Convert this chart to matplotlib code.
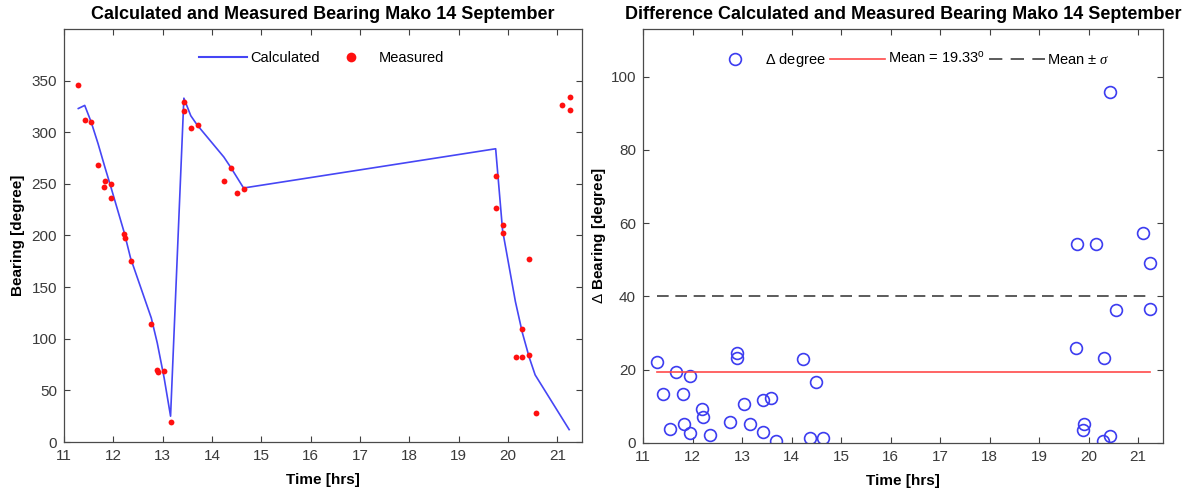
import matplotlib
matplotlib.use("Agg")
import matplotlib.pyplot as plt
from matplotlib.lines import Line2D
import numpy as np

plt.rcParams['font.family'] = ['Liberation Sans', 'DejaVu Sans']
plt.rcParams['mathtext.fontset'] = 'custom'
plt.rcParams['mathtext.rm'] = 'Liberation Sans'
plt.rcParams['mathtext.it'] = 'Liberation Serif:italic'

# Calculated bearing along the track (hours, degrees)
calc_time = [11.29, 11.42, 11.55, 11.69, 11.83, 11.95, 12.22, 12.35, 12.77, 12.89,
             13.03, 13.16, 13.43, 13.57, 13.70, 14.24, 14.38, 14.64, 19.75, 19.89,
             20.15, 20.29, 20.43, 20.55, 21.24]
calc_bearing = [323, 326, 310, 289, 266, 247, 203, 178, 120, 96,
                62, 25, 333, 316, 307, 276, 266, 246, 284, 205,
                136, 106, 82, 65, 12]

# Measured bearings
meas_time = [11.29, 11.42, 11.55, 11.69, 11.83, 11.81, 11.96, 11.95, 12.21, 12.23,
             12.35, 12.77, 12.89, 12.90, 13.03, 13.17, 13.43, 13.43, 13.57, 13.71,
             14.24, 14.38, 14.50, 14.65, 19.75, 19.76, 19.89, 19.89, 20.16, 20.28,
             20.29, 20.43, 20.43, 20.56, 21.10, 21.25, 21.25]
meas_bearing = [346, 312, 310, 268, 253, 247, 250, 236, 201, 198,
                175, 114, 70, 68, 69, 19, 329, 321, 304, 307,
                253, 265, 241, 245, 258, 227, 210, 202, 82, 109,
                82, 177, 84, 28, 326, 322, 334]

# Absolute difference between calculated and measured bearing
diff_time = [11.28, 11.41, 11.54, 11.67, 11.80, 11.82, 11.95, 11.94, 12.20, 12.22,
             12.35, 12.75, 12.89, 12.90, 13.03, 13.16, 13.42, 13.43, 13.58, 13.69,
             14.23, 14.37, 14.50, 14.64, 19.75, 19.76, 19.88, 19.90, 20.15, 20.28,
             20.30, 20.42, 20.43, 20.55, 21.10, 21.23, 21.24]
diff_deg = [22.0, 13.5, 3.9, 19.5, 13.5, 5.3, 18.4, 2.6, 9.4, 7.0,
            2.2, 5.7, 24.6, 23.3, 10.6, 5.3, 11.8, 2.9, 12.3, 0.5,
            22.8, 1.5, 16.6, 1.4, 25.8, 54.4, 3.5, 5.1, 54.2, 0.5,
            23.3, 1.9, 95.8, 36.4, 57.2, 49.0, 36.5]
diff_mean = 19.33
diff_std = 20.7

x_ticks = list(range(11, 22))
left_yticks = [0, 50, 100, 150, 200, 250, 300, 350]
right_yticks = [0, 20, 40, 60, 80, 100]

W, H = 1182, 495
fig = plt.figure(figsize=(W / 100, H / 100), dpi=100)
ax1 = fig.add_axes([64 / W, 1 - 442 / H, (582 - 64) / W, (442 - 29) / H])
ax2 = fig.add_axes([643 / W, 1 - 443 / H, (1163 - 643) / W, (443 - 29) / H])

tick_col = '#404040'
for ax in (ax1, ax2):
    ax.tick_params(direction='in', top=True, right=True, length=4, width=0.8,
                   colors=tick_col, labelsize=11, labelcolor='#3a3a3a', pad=5)
    for s in ax.spines.values():
        s.set_color('#4a4a4a')
        s.set_linewidth(0.9)
    ax.set_xlim(11, 21.5)
    ax.set_xticks(x_ticks)
    ax.set_xlabel('Time [hrs]', fontsize=11, fontweight='bold', labelpad=7)

# Left panel
ax1.plot(calc_time, calc_bearing, color='#4646f5', lw=1.2, label='Calculated')
ax1.plot(meas_time, meas_bearing, 'o', color='#ff1010', ms=4.2, mew=0, label='Measured')
ax1.set_ylim(0, 400)
ax1.set_yticks(left_yticks)
ax1.set_ylabel('Bearing [degree]', fontsize=11, fontweight='bold', labelpad=5)
ax1.set_title('Calculated and Measured Bearing Mako 14 September',
              fontsize=13, fontweight='bold', pad=7)
h1 = [Line2D([], [], color='#4646f5', lw=1.5),
      Line2D([], [], ls='none', marker='o', color='#ff1010', ms=7, mew=0)]
ax1.legend(h1, ['Calculated', 'Measured'], ncol=2, frameon=False, loc='center',
           bbox_to_anchor=(0.497, 0.93), fontsize=10.5, handlelength=3.3,
           handletextpad=0.2, columnspacing=0.5)

# Right panel
dash = (0, (7, 4))
t0, t1 = diff_time[0], diff_time[-1]
ax2.plot(diff_time, diff_deg, 'o', mfc='none', mec='#3c3cf0', ms=8.5, mew=1.2)
ax2.plot([t0, t1], [diff_mean, diff_mean], color='#ff4a4a', lw=1.2)
ax2.plot([t0, t1], [diff_mean + diff_std] * 2, color='#404040', lw=1.2, ls=dash)
ax2.plot([t0, t1], [diff_mean - diff_std] * 2, color='#404040', lw=1.2, ls=dash)
ax2.set_ylim(0, 113)
ax2.set_yticks(right_yticks)
ax2.set_ylabel(r'$\Delta$ Bearing [degree]', fontsize=11, fontweight='bold', labelpad=2)
ax2.set_title('Difference Calculated and Measured Bearing Mako 14 September',
              fontsize=13, fontweight='bold', pad=7)
h2 = [Line2D([], [], ls='none', marker='o', mfc='none', mec='#3c3cf0', ms=8.5, mew=1.2),
      Line2D([], [], color='#ff4a4a', lw=1.2),
      Line2D([], [], color='#404040', lw=1.2, ls=(0, (8, 5)))]
ax2.legend(h2, [r'$\Delta$ degree', r'Mean = 19.33$^{\rm o}$', r'Mean $\pm$ $\it{\sigma}$'],
           ncol=3, frameon=False, loc='center', bbox_to_anchor=(0.51, 0.925),
           fontsize=10.5, handlelength=3.8, handletextpad=0.15, columnspacing=0.3)

fig.savefig('out.png', dpi=100)
